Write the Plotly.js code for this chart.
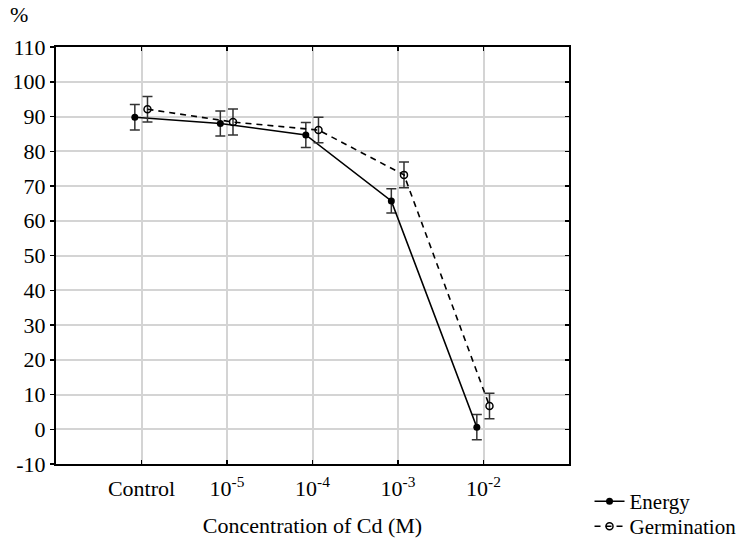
<!DOCTYPE html>
<html>
<head>
<meta charset="utf-8">
<script src="https://cdn.plot.ly/plotly-3.0.1.min.js"></script>
<style>html,body{margin:0;padding:0;background:#fff;}#chart{width:753px;height:549px;}</style>
</head>
<body>
<div id="chart"></div>
<script>
const categories = ["Control", "10<sup>-5</sup>", "10<sup>-4</sup>", "10<sup>-3</sup>", "10<sup>-2</sup>"];
const energyValues = [89.8, 88.0, 84.7, 65.7, 0.6];
const energyErrors = [3.65, 3.6, 3.6, 3.5, 3.65];
const germinationValues = [92.1, 88.4, 86.1, 73.2, 6.7];
const germinationErrors = [3.65, 3.75, 3.65, 3.7, 3.65];
const yTicks = [-10, 0, 10, 20, 30, 40, 50, 60, 70, 80, 90, 100, 110];
const yTickLabels = ["-10", "0", "10", "20", "30", "40", "50", "60", "70", "80", "90", "100", "110"];

const pos = categories.map((c, i) => i + 1);
const energyOffset = -0.078, germOffset = 0.07;
const font = "'Liberation Serif', 'Times New Roman', serif";

const traces = [
  {
    name: "Energy", type: "scatter", mode: "lines+markers", legend: "legend",
    x: pos.map(p => p + energyOffset), y: energyValues,
    line: {color: "#000", width: 1.6},
    marker: {symbol: "circle", size: 7, color: "#000"},
    error_y: {type: "data", array: energyErrors, visible: true, color: "#333", thickness: 1.5, width: 5}
  },
  {
    name: "Germination", type: "scatter", mode: "lines+markers", legend: "legend2",
    x: pos.map(p => p + germOffset), y: germinationValues,
    line: {color: "#000", width: 1.6, dash: "6px,5px"},
    marker: {symbol: "circle-open", size: 7, color: "#000", line: {width: 1.5, color: "#000"}},
    error_y: {type: "data", array: germinationErrors, visible: true, color: "#333", thickness: 1.5, width: 5}
  },
  {type: "scatter", x: [], y: [], yaxis: "y2", showlegend: false, hoverinfo: "skip"}
];

const legendStyle = (y) => ({x: 1.04, xanchor: "left", y: y, yanchor: "top",
  font: {family: font, size: 21, color: "#000"}, bgcolor: "rgba(0,0,0,0)", itemwidth: 30});

const layout = {
  width: 753, height: 549,
  margin: {l: 56, r: 184, t: 47, b: 85, pad: 0, autoexpand: false},
  paper_bgcolor: "#fff", plot_bgcolor: "#fff",
  font: {family: font, size: 22, color: "#000"},
  showlegend: true,
  legend: legendStyle(-0.041),
  legend2: legendStyle(-0.101),
  xaxis: {
    range: [0, 6], tickmode: "array", tickvals: pos, ticktext: categories,
    showgrid: true, gridcolor: "#d4d4d4", gridwidth: 2,
    showline: true, linecolor: "#000", linewidth: 2, mirror: "ticks",
    ticks: "inside", ticklen: 4, tickwidth: 1.5, tickcolor: "#000",
    zeroline: false, tickfont: {family: font, size: 22}, ticklabelstandoff: 4,
    automargin: false,
    title: {text: "Concentration of Cd (M)", font: {family: font, size: 22}, standoff: 17}
  },
  yaxis: {
    range: [-10, 110], tickmode: "array", tickvals: yTicks, ticktext: yTickLabels,
    showgrid: true, gridcolor: "#d4d4d4", gridwidth: 2,
    showline: true, linecolor: "#000", linewidth: 2, mirror: true,
    ticks: "outside", ticklen: 4, tickwidth: 1.5, tickcolor: "#000",
    zeroline: false, tickfont: {family: font, size: 22}, automargin: false
  },
  yaxis2: {
    range: [-10, 110], tickmode: "array", tickvals: yTicks, overlaying: "y", side: "right",
    showgrid: false, showticklabels: false, ticks: "inside", ticklen: 4, tickwidth: 1.5, tickcolor: "#000",
    showline: false, zeroline: false, automargin: false
  },
  annotations: [
    {text: "%", xref: "paper", yref: "paper", x: -0.094, y: 1.077, xanchor: "left", yanchor: "middle",
     showarrow: false, font: {family: font, size: 22, color: "#000"}}
  ]
};

Plotly.newPlot("chart", traces, layout, {displayModeBar: false, staticPlot: true});
</script>
</body>
</html>
